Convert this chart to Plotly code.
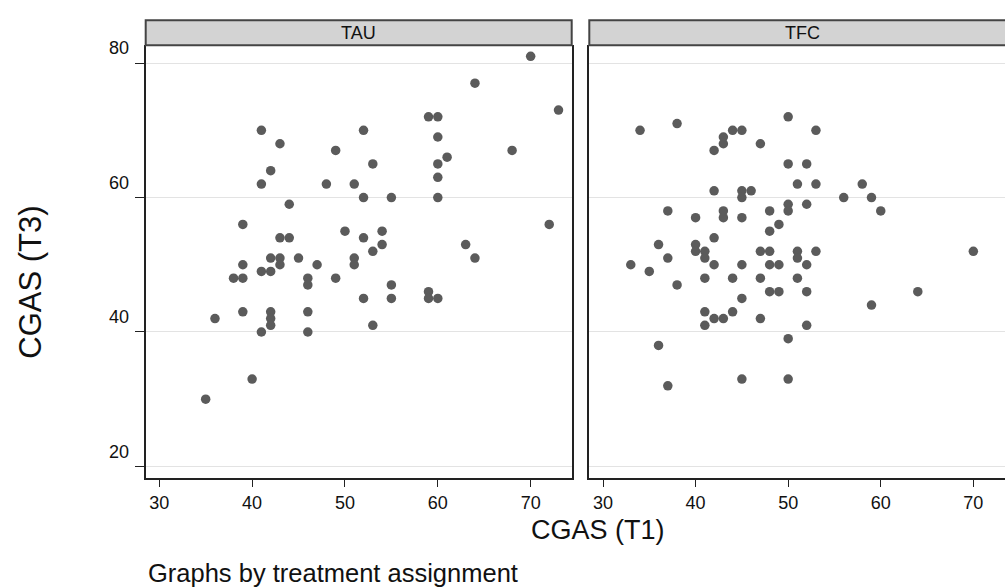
import plotly.graph_objects as go

# ---- data ----
panel_labels = ["TAU", "TFC"]
tau_t1 = [70, 64, 73, 59, 60, 41, 52, 60, 43, 49, 68, 61, 53, 60, 42, 60, 41, 48, 51, 52,
          55, 60, 44, 39, 72, 50, 54, 43, 44, 52, 54, 63, 53, 42, 43, 45, 51, 64, 39, 43,
          47, 51, 41, 42, 38, 39, 46, 49, 46, 55, 59, 52, 55, 59, 60, 39, 42, 46, 36, 42,
          42, 53, 41, 46, 40, 35]
tau_t3 = [81, 77, 73, 72, 72, 70, 70, 69, 68, 67, 67, 66, 65, 65, 64, 63, 62, 62, 62, 60,
          60, 60, 59, 56, 56, 55, 55, 54, 54, 54, 53, 53, 52, 51, 51, 51, 51, 51, 50, 50,
          50, 50, 49, 49, 48, 48, 48, 48, 47, 47, 46, 45, 45, 45, 45, 43, 43, 43, 42, 42,
          41, 41, 40, 40, 33, 30]
tfc_t1 = [50, 38, 34, 44, 45, 53, 43, 43, 47, 42, 50, 52, 51, 53, 58, 42, 45, 46, 45, 56,
          59, 50, 52, 37, 43, 48, 50, 60, 40, 43, 45, 49, 48, 42, 36, 40, 40, 41, 47, 48,
          51, 53, 70, 37, 41, 51, 33, 42, 45, 48, 49, 52, 35, 41, 44, 47, 51, 38, 48, 49,
          52, 64, 45, 59, 41, 44, 42, 43, 47, 41, 52, 50, 36, 45, 50, 37]
tfc_t3 = [72, 71, 70, 70, 70, 70, 69, 68, 68, 67, 65, 65, 62, 62, 62, 61, 61, 61, 60, 60,
          60, 59, 59, 58, 58, 58, 58, 58, 57, 57, 57, 56, 55, 54, 53, 53, 52, 52, 52, 52,
          52, 52, 52, 51, 51, 51, 50, 50, 50, 50, 50, 50, 49, 48, 48, 48, 48, 47, 46, 46,
          46, 46, 45, 44, 43, 43, 42, 42, 42, 41, 41, 39, 38, 33, 33, 32]
x_ticks = [30, 40, 50, 60, 70]
y_ticks = [20, 40, 60, 80]

W, H = 1005, 588
FONT = "Liberation Sans, Arial, sans-serif"
DOT = "#5b5b5b"
LINE = "#222222"
TXT = "#111111"

def px_x(p):  # window pixel -> paper fraction
    return p / W

def px_y(p):
    return 1 - p / H

left_dom = [px_x(145.7), px_x(571.7)]
right_dom = [px_x(589.3), 1.0]
y_dom = [px_y(476.7), px_y(38.7)]

fig = go.Figure()
fig.add_trace(go.Scatter(x=tau_t1, y=tau_t3, mode="markers", xaxis="x", yaxis="y",
                         marker=dict(size=9.5, color=DOT), showlegend=False))
fig.add_trace(go.Scatter(x=tfc_t1, y=tfc_t3, mode="markers", xaxis="x2", yaxis="y2",
                         marker=dict(size=9.5, color=DOT), showlegend=False))

xcommon = dict(tickvals=x_ticks, ticks="outside", ticklen=7, tickwidth=1, tickcolor=LINE,
               showline=True, linecolor=LINE, linewidth=2, showgrid=False, zeroline=False,
               tickfont=dict(family=FONT, size=18, color=TXT))
fig.update_layout(
    width=W, height=H,
    margin=dict(l=0, r=0, t=0, b=0),
    paper_bgcolor="white", plot_bgcolor="white",
    xaxis=dict(domain=left_dom, range=[28.54, 74.42], anchor="y", **xcommon),
    xaxis2=dict(domain=right_dom, range=[28.52, 73.42], anchor="y2", **xcommon),
    yaxis=dict(domain=y_dom, range=[18.28, 82.65], anchor="x", tickvals=y_ticks,
               ticks="outside", ticklen=9, tickwidth=1, tickcolor=LINE,
               showline=True, linecolor=LINE, linewidth=2, mirror=True,
               showgrid=True, gridcolor="#e3e3e3", gridwidth=1, zeroline=False,
               ticklabelshift=-15, ticklabelstandoff=2,
               tickfont=dict(family=FONT, size=18, color=TXT)),
    yaxis2=dict(domain=y_dom, range=[18.28, 82.65], anchor="x2", tickvals=y_ticks,
                ticks="", showticklabels=False,
                showline=True, linecolor=LINE, linewidth=2,
                showgrid=True, gridcolor="#e3e3e3", gridwidth=1, zeroline=False),
)

# header strips
hdr_y0, hdr_y1 = px_y(38.7), px_y(13.3)
for x0, x1 in [(left_dom[0], left_dom[1]), (right_dom[0], 1.02)]:
    fig.add_shape(type="rect", xref="paper", yref="paper", x0=x0, x1=x1, y0=hdr_y0, y1=hdr_y1,
                  fillcolor="#d3d3d3", line=dict(color="#444444", width=2), layer="above")

hdr_mid = (hdr_y0 + hdr_y1) / 2
fig.add_annotation(text=panel_labels[0], xref="paper", yref="paper",
                   x=(left_dom[0] + left_dom[1]) / 2, y=hdr_mid, xanchor="center",
                   yanchor="middle", showarrow=False, font=dict(family=FONT, size=18, color=TXT))
fig.add_annotation(text=panel_labels[1], xref="paper", yref="paper",
                   x=(right_dom[0] + px_x(1015.3)) / 2, y=hdr_mid, xanchor="center",
                   yanchor="middle", showarrow=False, font=dict(family=FONT, size=18, color=TXT))

# axis titles and note
fig.add_annotation(text="CGAS (T1)", xref="paper", yref="paper", x=px_x(597.5), y=px_y(529),
                   xanchor="center", yanchor="middle", showarrow=False,
                   font=dict(family=FONT, size=27, color=TXT))
fig.add_annotation(text="CGAS (T3)", xref="paper", yref="paper", x=px_x(31), y=px_y(279),
                   xanchor="center", yanchor="middle", textangle=-90, showarrow=False,
                   font=dict(family=FONT, size=31, color=TXT))
fig.add_annotation(text="Graphs by treatment assignment", xref="paper", yref="paper",
                   x=px_x(146), y=px_y(573), xanchor="left", yanchor="middle", showarrow=False,
                   font=dict(family=FONT, size=25.5, color=TXT))

# remove the default 8px page margin so the figure sits at the window's top-left corner
fig.write_html("out.html", config={"displayModeBar": False},
               post_script="document.body.style.margin='0';document.body.style.overflow='hidden';")
